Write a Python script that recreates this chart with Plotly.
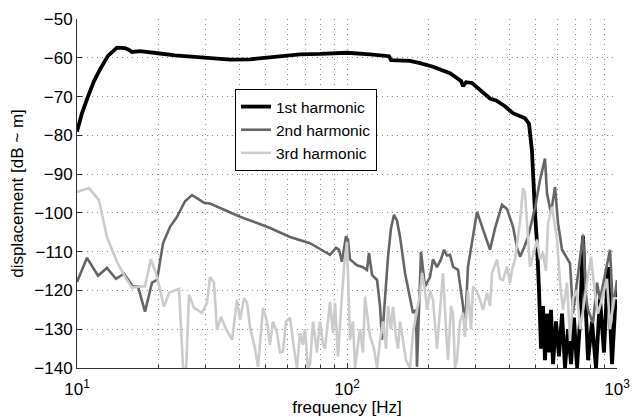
import plotly.graph_objects as go

# ---- data ----
f1 = [10.0, 10.43, 10.98, 11.56, 12.17, 13.02, 14.06, 15.06, 15.59, 15.98, 17.12, 18.63, 20.3, 23.07, 28.55,
      31.09, 36.9, 43.72, 50.5, 56.47, 67.0, 79.43, 94.2, 100, 121.7, 140.5, 143.1, 145.6, 157.2, 171.2,
      186.4, 208.2, 240.7, 264.5, 269, 275.9, 290.4, 310.9, 338.6, 356.4, 384.6, 412, 456.4, 472.1, 484.3,
      497, 505.6, 514.2, 523.0, 532, 541.1, 550.6, 560, 569.6, 579.4, 594.6, 609.8, 625.7, 641.9, 658.3,
      675.7, 693.1, 711, 729.5, 748.4, 761.2, 781, 808, 836, 865, 895, 926, 958.3, 983, 1000]
db1 = [-79, -74.3, -70, -66, -63, -59.5, -57.4, -57.5, -58, -58.5, -58.3, -58.7, -58.9, -59.4, -60,
       -60.2, -60.5, -60.4, -60, -59.7, -59.1, -59.0, -58.8, -58.7, -59.1, -59.4, -59.6, -60.6, -60.7, -60.8,
       -61.4, -62.3, -64, -66, -67.3, -66.3, -66.5, -68.3, -70.5, -71, -72.5, -74.3, -75.6, -77, -84,
       -100, -108, -120, -135, -124, -138, -126, -136, -125, -139, -128, -137, -126, -140, -130,
       -139, -127, -140, -128, -106, -120, -138, -128, -140, -122, -136, -114, -139, -125, -120]

f2 = [10.0, 10.89, 11.96, 12.91, 13.94, 14.93, 16.12, 16.83, 17.86, 18.96, 19.79, 20.83, 22.11, 23.47, 25.12,
      26.67, 28.55, 29.54, 31.09, 35.94, 40.16, 46.42, 51.85, 61.5, 72.9, 86.5, 91.07, 93.4, 95.8, 99.15,
      100.9, 102.6, 108.9, 114.6, 118.6, 120.6, 123.8, 129.2, 132.5, 134.8, 137.1, 141.9, 145.5, 149.3, 153.2,
      157.2, 164, 171.2, 175.6, 180.1, 181.6, 184.8, 188, 194.5, 203, 208.2, 215.4, 222.9, 228.7, 234.7,
      240.7, 247, 257.7, 269, 273.5, 280.6, 290.4, 303.1, 310.9, 324.4, 338.6, 353.3, 375.1, 391.4, 412,
      426.4, 437.4, 452.5, 468.3, 484.3, 497, 518.6, 541.1, 550.6, 569.6, 589.5, 604.6, 625.7, 658.3, 669.9,
      687.1, 711, 729.5, 748.4, 767.8, 781, 815, 843.4, 865, 902.7, 942.2, 966.5, 1000]
db2 = [-117.8, -111.6, -116.2, -114.2, -117, -115.7, -119, -119, -125.5, -118, -117.3, -107.8, -103.6, -101, -97,
       -95.4, -96.7, -97.4, -97.6, -99.5, -101, -102.6, -103.9, -106.2, -107.8, -110.8, -109, -109.5, -112.6, -106,
       -107, -112, -113.5, -114, -114.7, -110.3, -116, -117.3, -124, -132.7, -125, -111.3, -104, -100.5, -102,
       -106.2, -115.5, -122.4, -125.8, -125, -139.7, -125, -110, -119, -116.5, -112, -114, -112, -109.5, -111,
       -110.8, -113.9, -114.7, -124, -130, -113.9, -107, -99.7, -102, -106, -109.5, -104, -97.9, -99, -103.6,
       -109, -111.3, -109, -106.2, -102, -98.7, -91.5, -86, -95, -100, -93.3, -102.6, -109.5, -112, -113,
       -126, -118, -111, -105.6, -122, -125, -128.4, -118, -122.4, -116, -109.5, -125, -117.3]

f3 = [10.0, 11.08, 12.06, 12.91, 14.06, 15.06, 15.98, 16.97, 17.86, 18.79,
      19.79, 21.0, 21.92, 23.87, 24.7, 25.34, 25.99, 27.13, 29.04, 30.31,
      31.09, 32.17, 33.0, 34.15, 35.64, 37.52, 39.14, 40.16, 41.55, 42.62,
      43.72, 45.64, 46.82, 48.87, 50.55, 51.85, 53.19, 55.04, 56.47, 57.94,
      59.44, 61.5, 63.64, 65.28, 66.98, 68.71, 69.9, 71.7, 72.95, 74.84,
      77.42, 79.43, 81.5, 82.9, 86.5, 88.7, 90.3, 92.6, 95.0, 97.5,
      100, 102.6, 105.2, 107.1, 109.8, 111.7, 114.6, 116.6, 119.6, 121.7,
      125.9, 129.2, 132.5, 135.9, 139.5, 141.9, 145.5, 148.1, 151.9, 154.5,
      157.2, 161.2, 165.4, 171.2, 175.6, 181.6, 186.4, 189.6, 194.5, 197.9,
      203, 208.2, 211.8, 215.4, 221, 226.8, 232.7, 236.6, 242.8, 247,
      251.2, 255.5, 262.1, 269, 273.5, 280.6, 288, 292.9, 303.1, 310.9,
      319, 330, 338.6, 344.4, 359.3, 368.8, 378.3, 391.4, 401.6, 408.4,
      419, 426.4, 437.4, 448.7, 456.4, 464.2, 476.2, 488.6, 505.6, 518.6,
      532, 545.8, 555.3, 574.5, 589.5, 599.5, 615.1, 631, 653, 669.9,
      687.1, 711, 729.5, 742, 774.2, 801.1, 828.8, 850.5, 887.4, 918.3,
      942.2, 974.7, 1000]
db3 = [-94.6, -93.6, -96.7, -106.2, -112.6, -116.5, -119.3, -119, -119, -111.9,
       -116.5, -124.2, -120.6, -119.6, -139.7, -141, -121.1, -124.5, -125.8, -123.2,
       -116.5, -118, -130.2, -126.8, -130, -132.7, -122.4, -127.6, -122, -123.2,
       -129.4, -135, -139.7, -124.5, -128, -134, -128, -131, -136, -135.8,
       -128, -127, -135, -140, -131, -134, -130, -140, -139, -128,
       -136, -128, -134, -135, -123, -131, -123.2, -137, -125, -113.9,
       -107.5, -132.7, -128, -140, -134, -130, -136, -121.6, -128, -131.8,
       -135, -140, -133, -128, -135, -124, -130, -124.2, -132, -135,
       -128, -133, -138, -140, -131, -125, -121, -115.5, -120, -125,
       -120, -122.4, -130, -135, -125, -115.5, -130, -138, -124, -126,
       -140, -138, -128, -125.8, -132, -120, -130, -119, -120.4, -122.4,
       -125, -120.6, -124, -115.5, -112.1, -117, -117.3, -113.9, -118, -114.7,
       -112, -107.8, -102.2, -93.6, -95, -102.6, -113.9, -111, -106.9, -112,
       -110.3, -115, -102.6, -98.4, -103, -106.9, -118, -125, -118, -133,
       -122, -120, -130, -127, -118, -111.3, -121, -126, -121, -117,
       -130, -122, -122]

series_names = ["1st harmonic", "2nd harmonic", "3rd harmonic"]
x_tickvals = [10, 100, 1000]
x_ticktext = ["10<sup>1</sup>", "10<sup>2</sup>", "10<sup>3</sup>"]
x_minorvals = [20, 30, 40, 50, 60, 70, 80, 90, 200, 300, 400, 500, 600, 700, 800, 900]
y_tickvals = [-140, -130, -120, -110, -100, -90, -80, -70, -60, -50]

FONT = "Liberation Sans, Arial, Helvetica, sans-serif"
FS = 17
GRID = "#8a8a8a"
AX = "#303030"

fig = go.Figure()
fig.add_trace(go.Scatter(x=f1, y=db1, mode="lines", name=series_names[0],
                         line=dict(color="#000000", width=3.8)))
fig.add_trace(go.Scatter(x=f2, y=db2, mode="lines", name=series_names[1],
                         line=dict(color="#666666", width=2.6)))
fig.add_trace(go.Scatter(x=f3, y=db3, mode="lines", name=series_names[2],
                         line=dict(color="#cbcbcb", width=2.6)))

fig.update_layout(
    width=632, height=417,
    margin=dict(l=77, r=15, t=19, b=49),
    paper_bgcolor="white", plot_bgcolor="white",
    font=dict(family=FONT, size=FS, color="#000000"),
    showlegend=True,
    legend=dict(x=0.2926, y=0.7994, xanchor="left", yanchor="top",
                bgcolor="white", bordercolor="#000000", borderwidth=1,
                font=dict(family=FONT, size=15.5, color="#000000"),
                tracegroupgap=0),
)
fig.update_xaxes(
    type="log", range=[1, 3], automargin=False,
    tickmode="array", tickvals=x_tickvals, ticktext=x_ticktext,
    ticks="inside", ticklen=5, tickcolor=AX, tickwidth=1,
    ticklabelstandoff=6,
    showline=True, linecolor=AX, linewidth=1, mirror=False,
    showgrid=True, gridcolor=GRID, griddash="1px,4px", gridwidth=1,
    minor=dict(tickmode="array", tickvals=x_minorvals, ticks="inside", ticklen=3,
               tickcolor=AX, showgrid=True, gridcolor=GRID, griddash="1px,4px", gridwidth=1),
    title=dict(text="frequency [Hz]", font=dict(family=FONT, size=FS), standoff=3),
    tickfont=dict(family=FONT, size=FS),
    zeroline=False,
)
fig.update_yaxes(
    range=[-140, -50], automargin=False,
    tickmode="array", tickvals=y_tickvals,
    ticks="inside", ticklen=5, tickcolor=AX, tickwidth=1,
    showline=True, linecolor=AX, linewidth=1, mirror=False,
    showgrid=True, gridcolor=GRID, griddash="1px,4px", gridwidth=1,
    title=dict(text="displacement [dB ~ m]", font=dict(family=FONT, size=FS), standoff=6),
    tickfont=dict(family=FONT, size=FS),
    zeroline=False,
)

fig.write_html("out.html", config={"displayModeBar": False},
               post_script="document.body.style.margin='0';document.body.style.overflow='hidden';")
